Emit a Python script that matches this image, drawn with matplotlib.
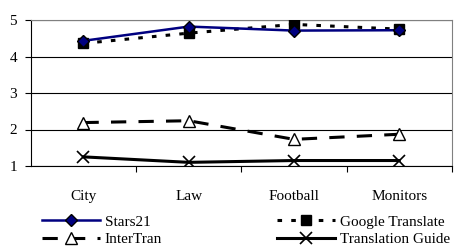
import numpy as np
import matplotlib.pyplot as plt

plt.rcParams['font.family'] = ['Liberation Serif', 'DejaVu Serif']

# %% data
categories = ['City', 'Law', 'Football', 'Monitors']
stars21 = [4.43, 4.82, 4.71, 4.72]
google = [4.36, 4.64, 4.88, 4.75]
intertran = [2.19, 2.24, 1.73, 1.87]
trans_guide = [1.25, 1.10, 1.15, 1.15]

x = np.arange(len(categories))

fig = plt.figure(figsize=(4.61, 2.5), dpi=100)
ax = fig.add_axes([0.067, 0.336, 0.913, 0.584])

l1, = ax.plot(x, stars21, color='#000080', lw=1.8, marker='D', ms=6,
              mfc='#000080', mec='black', label='Stars21', zorder=5)
l2, = ax.plot(x, google, color='black', lw=2.2, ls=(0, (1.5, 3)), marker='s', ms=7,
              label='Google Translate', zorder=4)
l3, = ax.plot(x, intertran, color='black', lw=2.2, ls=(0, (5, 4)), marker='^', ms=8,
              mfc='white', mec='black', mew=1, label='InterTran', zorder=4)
l4, = ax.plot(x, trans_guide, color='black', lw=2.2, marker='x', ms=8, mew=1.2,
              label='Translation Guide', zorder=4)

# %% axes
ax.set_xlim(-0.5, len(categories) - 0.5)
ax.set_ylim(1, 5)
ax.set_yticks([1, 2, 3, 4, 5])
ax.yaxis.grid(True, color='black', lw=0.8)
ax.set_axisbelow(True)
ax.set_xticks(x + 0.5)
ax.set_xticks(x, minor=True)
ax.set_xticklabels([])
ax.set_xticklabels(categories, minor=True)
ax.tick_params(axis='x', which='major', direction='out', length=4, color='black')
ax.tick_params(axis='x', which='minor', length=0, pad=17, labelsize=11)
ax.tick_params(axis='y', direction='out', length=4, labelsize=11, pad=6)
for s in ax.spines.values():
    s.set_color('#808080')
    s.set_linewidth(0.8)
ax.spines['bottom'].set_color('black')
ax.spines['left'].set_color('black')

# %% legend (two columns placed separately)
kw = dict(loc='upper left', frameon=False, fontsize=11, handlelength=3.8,
          handletextpad=0.3, labelspacing=0.25, borderaxespad=0, borderpad=0)
fig.legend(handles=[l1, l3], bbox_to_anchor=(42 / 461, 1 - 215 / 250), **kw)
fig.legend(handles=[l2, l4], bbox_to_anchor=(277 / 461, 1 - 215 / 250), **kw)

fig.savefig('out.png', dpi=100)
